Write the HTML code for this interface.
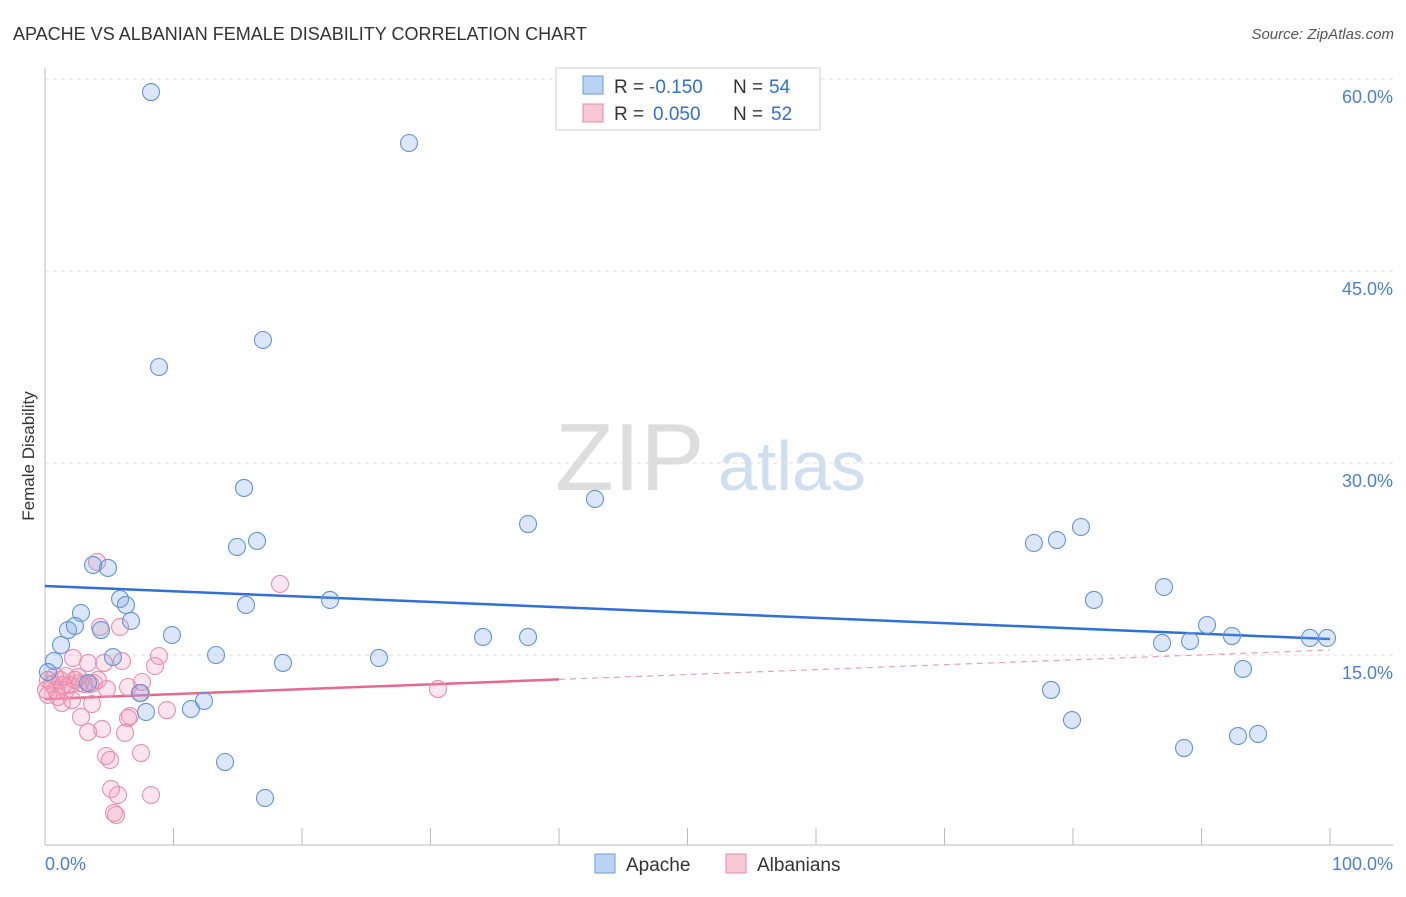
<!DOCTYPE html>
<html><head><meta charset="utf-8"><style>
body{margin:0;background:#fff;font-family:"Liberation Sans",sans-serif;}
svg text{font-family:"Liberation Sans",sans-serif;}
</style></head><body>
<svg id="chart" width="1406" height="892" xmlns="http://www.w3.org/2000/svg">
<text x="13" y="40" font-size="18" fill="#333">APACHE VS ALBANIAN FEMALE DISABILITY CORRELATION CHART</text>
<text x="1394" y="39" font-size="15" fill="#555" text-anchor="end" font-style="italic">Source: ZipAtlas.com</text>
<text x="34" y="456" font-size="17" fill="#333" text-anchor="middle" transform="rotate(-90 34 456)">Female Disability</text>
<text x="555" y="490" font-size="96" fill="#ddd" font-family="Liberation Serif">ZIP</text>
<text x="718" y="490" font-size="70" fill="#cfdff2">atlas</text>
<g id="grid"></g><g id="axes"></g><g id="lines"></g><g id="points"></g>
<g>
<rect x="556" y="68" width="264" height="62" fill="#fff" stroke="#ccc"/>
<rect x="583" y="76" width="20" height="18" fill="#b9d3f3" stroke="#6b9de0"/>
<rect x="583" y="104" width="20" height="18" fill="#f9c8d7" stroke="#e889a8"/>
<text x="614" y="93" font-size="19" fill="#333">R =</text>
<text x="649" y="93" font-size="19" fill="#2f6fd6">-0.150</text>
<text x="733" y="93" font-size="19" fill="#333">N =</text>
<text x="769" y="93" font-size="19" fill="#2f6fd6">54</text>
<text x="614" y="120" font-size="19" fill="#333">R =</text>
<text x="653" y="120" font-size="19" fill="#2f6fd6">0.050</text>
<text x="733" y="120" font-size="19" fill="#333">N =</text>
<text x="771" y="120" font-size="19" fill="#2f6fd6">52</text>
</g>
<g>
<rect x="595" y="854" width="20" height="19" fill="#b9d3f3" stroke="#6b9de0"/>
<text x="626" y="871" font-size="19" fill="#333">Apache</text>
<rect x="726" y="854" width="20" height="19" fill="#f9c8d7" stroke="#e889a8"/>
<text x="757" y="871" font-size="19" fill="#333">Albanians</text>
</g>
<text x="45" y="870" font-size="18" fill="#4a7fd6">0.0%</text>
<text x="1393" y="870" font-size="18" fill="#4a7fd6" text-anchor="end">100.0%</text>
</svg>
<script>
const yTicks=[15,30,45,60];
const yTickLabels=["15.0%","30.0%","45.0%","60.0%"];
const apacheX=[8.25,28.33,16.96,8.87,15.49,42.8,37.59,14.94,16.5,3.74,4.9,5.84,6.3,15.64,22.18,2.8,6.69,1.25,1.79,2.33,4.36,9.88,34.09,37.59,0.7,5.29,13.31,18.52,25.99,7.39,12.37,11.36,7.86,14.01,17.12,76.96,78.75,80.62,81.63,87.08,86.93,89.11,90.43,92.37,93.23,98.44,99.77,78.29,79.92,88.64,92.84,94.4,0.23,3.35];
const apacheY=[58.98,55.0,39.61,37.5,28.05,27.19,25.23,23.44,23.91,22.03,21.8,19.38,18.91,18.91,19.3,18.28,17.66,15.78,16.95,17.27,16.95,16.56,16.41,16.41,14.53,14.84,15.0,14.38,14.77,12.03,11.41,10.78,10.55,6.64,3.83,23.75,23.98,25.0,19.3,20.31,15.94,16.09,17.34,16.48,13.91,16.33,16.33,12.27,9.92,7.73,8.67,8.83,13.67,12.81];
const albX=[4.05,18.29,4.28,5.84,8.87,8.56,2.18,3.35,4.59,5.99,0.23,0.54,0.86,1.17,1.63,1.95,2.33,2.72,3.04,3.5,3.81,4.12,4.82,6.46,7.55,7.47,0.23,1.32,2.1,3.66,2.8,6.61,6.46,9.49,4.44,3.35,6.23,7.47,4.75,5.06,5.14,5.68,8.25,5.37,5.53,30.58,0.78,1.63,2.57,0.08,1.01,1.4];
const albY=[22.27,20.55,17.19,17.19,14.92,14.14,14.77,14.38,14.38,14.53,13.05,12.73,12.27,13.05,12.27,12.66,13.05,12.81,12.73,12.73,12.81,13.05,12.34,12.5,12.89,12.03,11.88,11.25,11.48,11.17,10.16,10.23,10.08,10.7,9.22,8.98,8.91,7.34,7.11,6.8,4.53,4.06,4.06,2.66,2.5,12.34,13.36,13.36,13.28,12.27,11.72,12.66];
const apacheTrend=[20.39,16.25];
const albTrend=[11.56,15.39];
const albSolidEnd=40;
const NS="http://www.w3.org/2000/svg";
const X=v=>45+v*12.85, Y=v=>847-v*12.8;
function mk(p,t,a){const e=document.createElementNS(NS,t);for(const k in a)e.setAttribute(k,a[k]);p.appendChild(e);return e;}
const grid=document.getElementById('grid'),axes=document.getElementById('axes'),lines=document.getElementById('lines'),pts=document.getElementById('points');
yTicks.forEach((t,i)=>{
 const l=mk(grid,'line',{x1:45,x2:1393,y1:Y(t),y2:Y(t),stroke:'#ddd','stroke-dasharray':'4,4'});
 
 
 const tx=mk(grid,'text',{x:1393,y:Y(t)+24,'font-size':18,fill:'#4a7fd6','text-anchor':'end'});tx.textContent=yTickLabels[i];
 
 
});
const ya=mk(axes,'line',{x1:45,x2:45,y1:68,y2:845,stroke:'#bbb'});


const xa=mk(axes,'line',{x1:45,x2:1393,y1:845,y2:845,stroke:'#bbb'});


for(let k=1;k<=10;k++){const t=mk(axes,'line',{x1:X(k*10),x2:X(k*10),y1:828,y2:845,stroke:'#bbb'});
 
 }
function dot(x,y,fill,stroke,name){const c=mk(pts,'circle',{cx:X(x),cy:Y(y),r:8.5,fill:fill,stroke:stroke,'stroke-width':1.1});
 
 }
albX.forEach((x,i)=>dot(x,albY[i],'rgba(243,150,178,0.25)','#e98fad','albanians-point'));
apacheX.forEach((x,i)=>dot(x,apacheY[i],'rgba(110,160,228,0.25)','#6195da','apache-point'));
const bl=mk(lines,'line',{x1:X(0),y1:Y(apacheTrend[0]),x2:X(100),y2:Y(apacheTrend[1]),stroke:'#2f6fd6','stroke-width':2.5});


const ym=albTrend[0]+(albTrend[1]-albTrend[0])*albSolidEnd/100;
const pl=mk(lines,'line',{x1:X(0),y1:Y(albTrend[0]),x2:X(albSolidEnd),y2:Y(ym),stroke:'#e8678f','stroke-width':2.5});


const pd=mk(lines,'line',{x1:X(albSolidEnd),y1:Y(ym),x2:X(100),y2:Y(albTrend[1]),stroke:'#e8a0b5','stroke-width':1.2,'stroke-dasharray':'6,5'});


</script>
</body></html>
